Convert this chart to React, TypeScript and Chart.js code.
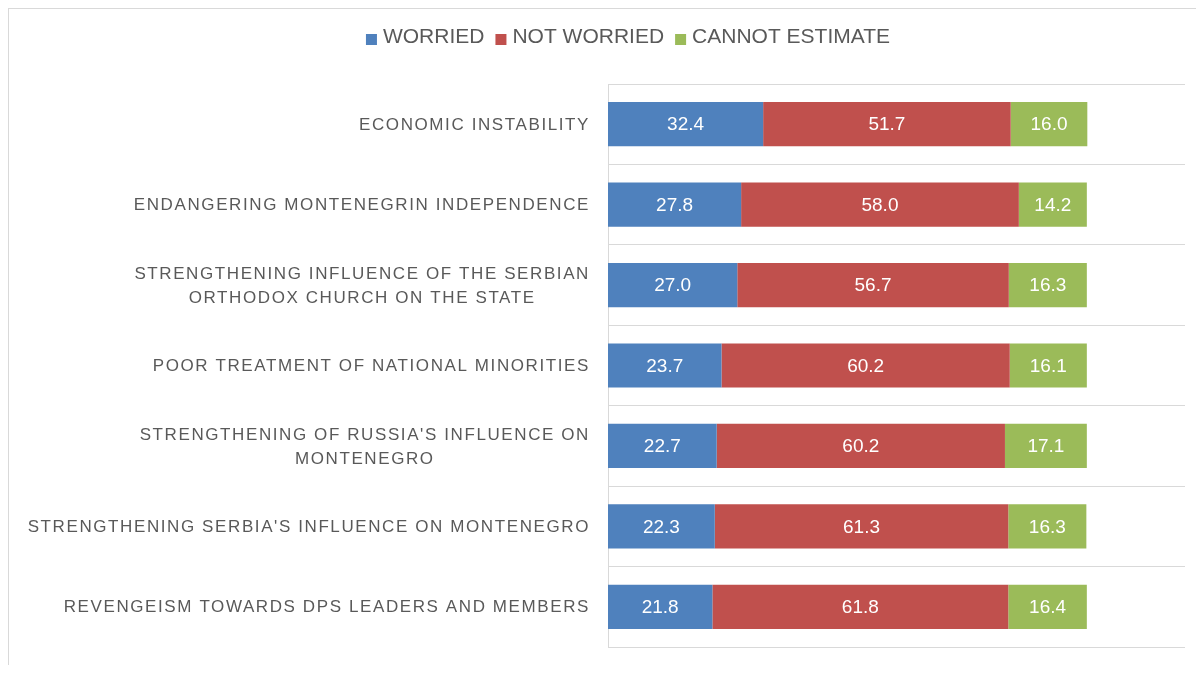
import React, { useEffect, useRef } from "react";
import { Chart, registerables } from "chart.js";

Chart.register(...registerables);

const categories: string[][] = [
  ["ECONOMIC INSTABILITY"],
  ["ENDANGERING MONTENEGRIN INDEPENDENCE"],
  ["STRENGTHENING INFLUENCE OF THE SERBIAN", "ORTHODOX CHURCH ON THE STATE"],
  ["POOR TREATMENT OF NATIONAL MINORITIES"],
  ["STRENGTHENING OF RUSSIA'S INFLUENCE ON", "MONTENEGRO"],
  ["STRENGTHENING SERBIA'S INFLUENCE ON MONTENEGRO"],
  ["REVENGEISM TOWARDS DPS LEADERS AND MEMBERS"],
];

const worried = [32.4, 27.8, 27.0, 23.7, 22.7, 22.3, 21.8];
const notWorried = [51.7, 58.0, 56.7, 60.2, 60.2, 61.3, 61.8];
const cannotEstimate = [16.0, 14.2, 16.3, 16.1, 17.1, 16.3, 16.4];

const seriesNames = ["WORRIED", "NOT WORRIED", "CANNOT ESTIMATE"];
const seriesColors = ["#4F81BD", "#C0504D", "#9BBB59"];

const FONT = "'Liberation Sans', Arial, Helvetica, sans-serif";
const TEXT_COLOR = "#595959";

const valueLabelsPlugin = {
  id: "valueLabels",
  afterDatasetsDraw(chart: any) {
    const ctx = chart.ctx;
    ctx.save();
    ctx.font = `19px ${FONT}`;
    ctx.fillStyle = "#ffffff";
    ctx.textAlign = "center";
    ctx.textBaseline = "middle";
    chart.data.datasets.forEach((ds: any, di: number) => {
      const meta = chart.getDatasetMeta(di);
      meta.data.forEach((el: any, i: number) => {
        const v = ds.data[i];
        const x = (el.x + el.base) / 2;
        ctx.fillText(Number(v).toFixed(1), x, el.y + 1);
      });
    });
    ctx.restore();
  },
};

const categoryLabelsPlugin = {
  id: "categoryLabels",
  afterDraw(chart: any) {
    const ctx = chart.ctx;
    const yScale = chart.scales.y;
    const rightEdge = yScale.right - 18;
    ctx.save();
    ctx.font = `17px ${FONT}`;
    (ctx as any).letterSpacing = "1.6px";
    ctx.fillStyle = TEXT_COLOR;
    ctx.textAlign = "center";
    ctx.textBaseline = "middle";
    const lineH = 24;
    categories.forEach((lines, i) => {
      const yc = yScale.getPixelForTick(i);
      const widths = lines.map((l) => ctx.measureText(l).width);
      const blockW = Math.max(...widths);
      const cx = rightEdge - blockW / 2;
      const y0 = yc - ((lines.length - 1) * lineH) / 2;
      lines.forEach((l, k) => {
        ctx.fillText(l, cx, y0 + k * lineH + 1);
      });
    });
    ctx.restore();
  },
};

const legendPlugin = {
  id: "customLegend",
  afterDraw(chart: any) {
    const ctx = chart.ctx;
    ctx.save();
    ctx.font = `21px ${FONT}`;
    ctx.textBaseline = "middle";
    ctx.textAlign = "left";
    const box = 11;
    const gapBoxText = 6;
    const itemGap = 11;
    const widths = seriesNames.map((n) => ctx.measureText(n).width);
    const total =
      widths.reduce((a, b) => a + b, 0) +
      seriesNames.length * (box + gapBoxText) +
      (seriesNames.length - 1) * itemGap;
    const centerX = 619;
    const yMid = 28;
    let x = centerX - total / 2;
    seriesNames.forEach((n, i) => {
      ctx.fillStyle = seriesColors[i];
      ctx.fillRect(x, yMid - 3, box, box);
      x += box + gapBoxText;
      ctx.fillStyle = TEXT_COLOR;
      ctx.fillText(n, x, yMid);
      x += widths[i] + itemGap;
    });
    ctx.restore();
  },
};

function App() {
  const ref = useRef<HTMLCanvasElement | null>(null);

  useEffect(() => {
    if (!ref.current) return;
    const chart = new Chart(ref.current, {
      type: "bar",
      data: {
        labels: categories.map((c) => c.join(" ")),
        datasets: [
          { label: seriesNames[0], data: worried, backgroundColor: seriesColors[0] },
          { label: seriesNames[1], data: notWorried, backgroundColor: seriesColors[1] },
          { label: seriesNames[2], data: cannotEstimate, backgroundColor: seriesColors[2] },
        ],
      },
      options: {
        indexAxis: "y",
        responsive: false,
        animation: false,
        devicePixelRatio: 1,
        datasets: {
          bar: { barPercentage: 0.55, categoryPercentage: 1 },
        },
        layout: { padding: { left: 0, right: 11, top: 75, bottom: 18 } },
        plugins: {
          legend: { display: false },
          tooltip: { enabled: false },
        },
        scales: {
          x: {
            display: false,
            stacked: true,
            min: 0,
            max: 120.5,
          },
          y: {
            stacked: true,
            ticks: { display: false },
            grid: { color: "#d9d9d9", drawTicks: false, offset: true, lineWidth: 1 },
            border: { display: true, color: "#d9d9d9" },
            afterFit: (scale: any) => {
              scale.width = 599;
            },
          },
        },
      },
      plugins: [valueLabelsPlugin, categoryLabelsPlugin, legendPlugin],
    } as any);
    return () => chart.destroy();
  }, []);

  return (
    <div
      style={{
        width: 1188,
        height: 657,
        borderTop: "1px solid #d9d9d9",
        borderLeft: "1px solid #d9d9d9",
        boxSizing: "border-box",
        background: "#ffffff",
      }}
    >
      <canvas ref={ref} width={1187} height={656} style={{ display: "block" }} />
    </div>
  );
}

export default App;
